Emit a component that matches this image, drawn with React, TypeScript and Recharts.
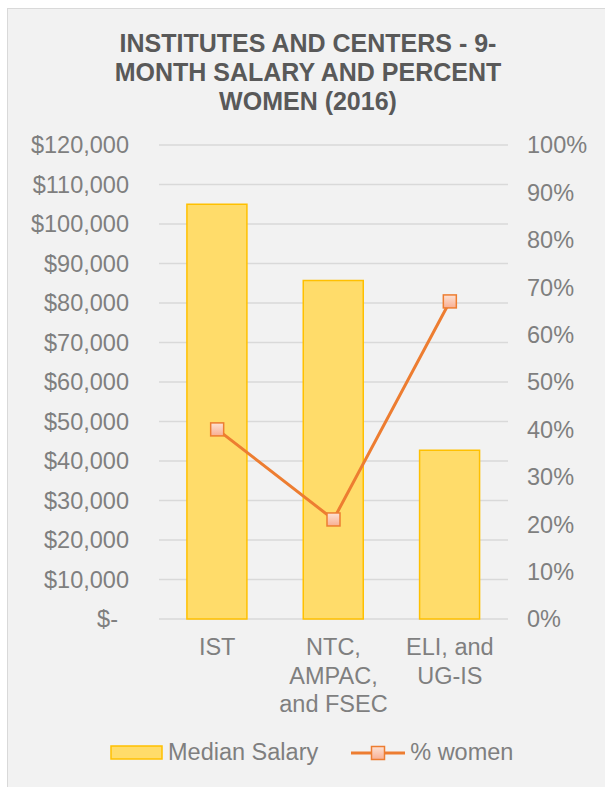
import React from 'react';
import { ComposedChart, Bar, Line, XAxis, YAxis, CartesianGrid, Legend } from 'recharts';

const categories = ['IST', 'NTC,\nAMPAC,\nand FSEC', 'ELI, and\nUG-IS'];
const medianSalary = [105000, 85700, 42700];
const percentWomen = [40, 21, 67];
const salaryTicks = [0, 10000, 20000, 30000, 40000, 50000, 60000, 70000, 80000, 90000, 100000, 110000, 120000];
const percentTicks = [0, 10, 20, 30, 40, 50, 60, 70, 80, 90, 100];
const titleLines = ['INSTITUTES AND CENTERS - 9-', 'MONTH SALARY AND PERCENT', 'WOMEN (2016)'];

const FONT = '"Liberation Sans", Arial, sans-serif';
const TICK_COLOR = '#7f7f7f';
const BAR_FILL = '#ffdc6a';
const BAR_STROKE = '#ffc000';
const LINE_COLOR = '#ed7d31';

const chartData = categories.map((name, i) => ({
  name,
  salary: medianSalary[i],
  women: percentWomen[i],
}));

const formatSalary = (v: number) => (v === 0 ? '$-' : '$' + v.toLocaleString('en-US'));

const LeftTick = (props: any) => {
  const { x, y, payload } = props;
  const zero = payload.value === 0;
  return (
    <text x={x - 30 - (zero ? 11 : 0)} y={y} dy="0.36em" textAnchor="end" fill={TICK_COLOR} fontSize={23.5} fontFamily={FONT}>
      {formatSalary(payload.value)}
    </text>
  );
};

const RightTick = (props: any) => {
  const { x, y, payload } = props;
  return (
    <text x={x + 19} y={y} dy="0.36em" textAnchor="start" fill={TICK_COLOR} fontSize={23.5} fontFamily={FONT}>
      {payload.value + '%'}
    </text>
  );
};

const CategoryTick = (props: any) => {
  const { x, y, payload } = props;
  const lines = String(payload.value).split('\n');
  return (
    <text x={x} y={y + 28} textAnchor="middle" fill={TICK_COLOR} fontSize={23.5} fontFamily={FONT}>
      {lines.map((l, i) => (
        <tspan key={i} x={x} dy={i === 0 ? '0.36em' : 28.5}>
          {l}
        </tspan>
      ))}
    </text>
  );
};

const SquareDot = (props: any) => {
  const { cx, cy, index } = props;
  if (cx == null || cy == null) return <g key={index} />;
  return (
    <rect key={index} x={cx - 6.5} y={cy - 6.5} width={13} height={13} fill="url(#markerFill)" stroke={LINE_COLOR} strokeWidth={1.5} />
  );
};

const LegendContent = () => (
  <div style={{ display: 'flex', alignItems: 'center', paddingLeft: 102, fontFamily: FONT, fontSize: 23.5, color: TICK_COLOR }}>
    <svg width={54} height={16} style={{ display: 'block' }}>
      <rect x={1} y={1} width={51} height={13} fill={BAR_FILL} stroke={BAR_STROKE} strokeWidth={1.5} />
    </svg>
    <span style={{ marginLeft: 4 }}>Median Salary</span>
    <svg width={54} height={16} style={{ display: 'block', marginLeft: 33 }}>
      <defs>
        <linearGradient id="legendMarker" x1="0" y1="0" x2="0" y2="1">
          <stop offset="0%" stopColor="#fde2d4" />
          <stop offset="100%" stopColor="#f8ae92" />
        </linearGradient>
      </defs>
      <line x1={0} y1={8} x2={54} y2={8} stroke={LINE_COLOR} strokeWidth={3} />
      <rect x={20.5} y={1.5} width={13} height={13} fill="url(#legendMarker)" stroke={LINE_COLOR} strokeWidth={1.5} />
    </svg>
    <span style={{ marginLeft: 5 }}>% women</span>
  </div>
);

const App: React.FC = () => {
  return (
    <div style={{ position: 'fixed', left: 0, top: 0, width: 605, height: 787, overflow: 'hidden', background: '#ffffff' }}>
      <div
        style={{
          position: 'absolute',
          left: 7,
          top: 8,
          width: 610,
          height: 800,
          background: '#f2f2f2',
          border: '1px solid #d9d9d9',
        }}
      >
        <div
          style={{
            position: 'absolute',
            left: 0,
            top: 20,
            width: 600,
            textAlign: 'center',
            fontFamily: FONT,
            fontWeight: 'bold',
            fontSize: 25,
            lineHeight: '29px',
            color: '#595959',
            zIndex: 1,
          }}
        >
          {titleLines.map((t, i) => (
            <div key={i} style={{ whiteSpace: 'nowrap' }}>
              {t}
            </div>
          ))}
        </div>
        <ComposedChart
          width={600}
          height={790}
          data={chartData}
          barCategoryGap="24%"
          margin={{ top: 136, right: 0, bottom: 50, left: 0 }}
        >
          <defs>
            <linearGradient id="markerFill" x1="0" y1="0" x2="0" y2="1">
              <stop offset="0%" stopColor="#fde2d4" />
              <stop offset="100%" stopColor="#f8ae92" />
            </linearGradient>
          </defs>
          <CartesianGrid yAxisId="left" vertical={false} stroke="#d9d9d9" strokeWidth={1.5} />
          <XAxis
            dataKey="name"
            height={130}
            axisLine={false}
            tickLine={false}
            tickSize={0}
            tickMargin={0}
            interval={0}
            tick={<CategoryTick />}
          />
          <YAxis
            yAxisId="left"
            orientation="left"
            width={151}
            domain={[0, 120000]}
            ticks={salaryTicks}
            interval={0}
            axisLine={false}
            tickLine={false}
            tickSize={0}
            tickMargin={0}
            tick={<LeftTick />}
          />
          <YAxis
            yAxisId="right"
            orientation="right"
            width={100}
            domain={[0, 100]}
            ticks={percentTicks}
            interval={0}
            axisLine={false}
            tickLine={false}
            tickSize={0}
            tickMargin={0}
            tick={<RightTick />}
          />
          <Legend
            verticalAlign="middle"
            align="center"
            layout="horizontal"
            wrapperStyle={{ position: 'absolute', top: 730, left: 0, width: 600 }}
            content={<LegendContent />}
          />
          <Bar yAxisId="left" dataKey="salary" name="Median Salary" fill={BAR_FILL} stroke={BAR_STROKE} strokeWidth={1.5} isAnimationActive={false} />
          <Line
            yAxisId="right"
            dataKey="women"
            name="% women"
            type="linear"
            stroke={LINE_COLOR}
            strokeWidth={3}
            dot={SquareDot}
            activeDot={false}
            isAnimationActive={false}
          />
        </ComposedChart>
      </div>
    </div>
  );
};

export default App;
